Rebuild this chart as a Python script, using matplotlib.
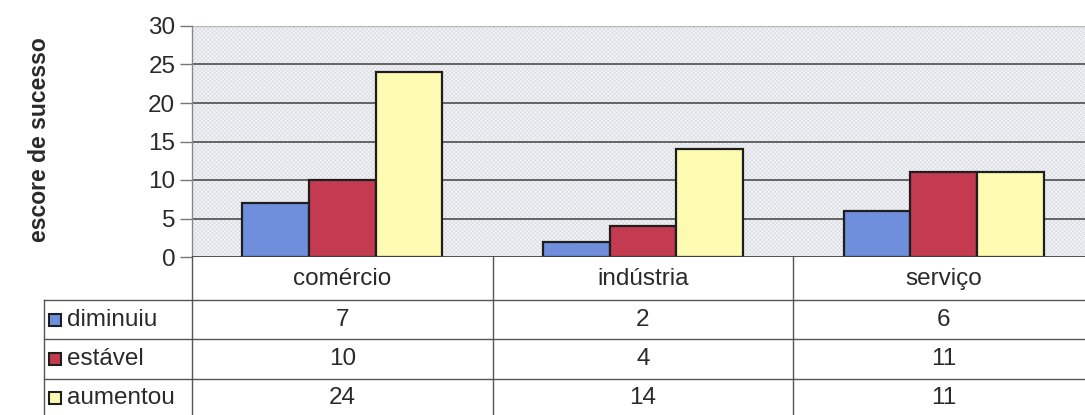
import numpy as np
import matplotlib.pyplot as plt
import matplotlib.transforms as mtransforms
from matplotlib.patches import Rectangle
from matplotlib.lines import Line2D

plt.rcParams['font.family'] = ['Liberation Sans', 'DejaVu Sans']
plt.rcParams['hatch.linewidth'] = 0.4

categories = ["comércio", "indústria", "serviço"]
series_names = ["diminuiu", "estável", "aumentou"]
diminuiu = [7, 2, 6]
estavel = [10, 4, 11]
aumentou = [24, 14, 11]
series_values = [diminuiu, estavel, aumentou]
colors = ["#6f8fdc", "#c43a50", "#fdfbb2"]
yticks = [0, 5, 10, 15, 20, 25, 30]

W, H = 1085, 415
fig = plt.figure(figsize=(W / 100, H / 100), dpi=100)
txt_color = "#2a2a2a"
fs = 17.5


def fy(py):
    # pixel row -> figure fraction
    return 1 - py / H


def fx(px):
    return px / W


ax = fig.add_axes([fx(192), fy(257), fx(1085) - fx(192), fy(26) - fy(257)])
ax.set_facecolor("#f2f3f6")
ax.add_patch(Rectangle((0, 0), 1, 1, transform=ax.transAxes, facecolor="none",
                       edgecolor="#d6d9df", hatch="xxxxxxxx", lw=0, zorder=0))

x = np.arange(len(categories))
bw = 0.222
for i, (vals, c) in enumerate(zip(series_values, colors)):
    ax.bar(x + (i - 1) * bw, vals, width=bw, color=c, edgecolor="#1e1e1e",
           linewidth=1.6, zorder=3)

ax.set_xlim(-0.5, 2.5 - 9 / 301)
ax.set_ylim(0, 30)
ax.set_yticks(yticks)
ax.set_yticklabels([str(t) for t in yticks], fontsize=fs, color=txt_color)
ax.tick_params(axis="y", length=9, width=1, color="#777777", pad=3)
ax.set_xticks([])
for t in yticks[1:-1]:
    ax.axhline(t, color="#5a5a5a", lw=1.3, zorder=1)
ax.axhline(30, color="#b8b8b8", lw=1.0, zorder=1)
ax.axhline(0, color="#444444", lw=1.3, zorder=4)
for s in ["top", "right", "bottom"]:
    ax.spines[s].set_visible(False)
ax.spines["left"].set_color("#888888")
ax.spines["left"].set_linewidth(1.0)

fig.text(fx(40), fy(140), "escore de sucesso", rotation=90, ha="center",
         va="center", fontsize=16.5, fontweight="bold", color=txt_color)

# data table under the plot: columns follow the category positions
trans = mtransforms.blended_transform_factory(ax.transData, fig.transFigure)
line_kw = dict(color="#555555", lw=1.0, clip_on=False)
col_edges = [-0.5, 0.5, 1.5, 2.5]
for xe in col_edges:
    fig.add_artist(Line2D([xe, xe], [fy(257), fy(420)], transform=trans, **line_kw))
row_lines = [300, 339, 379]
for ry in row_lines:
    fig.add_artist(Line2D([fx(44), fx(1085)], [fy(ry), fy(ry)],
                          transform=fig.transFigure, **line_kw))
fig.add_artist(Line2D([fx(44), fx(44)], [fy(300), fy(420)],
                      transform=fig.transFigure, **line_kw))

for xi, cat in zip(x, categories):
    fig.text(xi, fy(279), cat, transform=trans, ha="center", va="center",
             fontsize=fs, color=txt_color)

row_centers = [320, 359, 398]
for name, vals, c, ry in zip(series_names, series_values, colors, row_centers):
    fig.add_artist(Rectangle((fx(49), fy(ry + 6)), fx(12), 12 / H,
                             transform=fig.transFigure, facecolor=c,
                             edgecolor="#1e1e1e", lw=1.5))
    fig.text(fx(67), fy(ry), name, ha="left", va="center", fontsize=fs,
             color=txt_color)
    for xi, v in zip(x, vals):
        fig.text(xi, fy(ry), str(v), transform=trans, ha="center", va="center",
                 fontsize=fs, color=txt_color)

fig.savefig("out.png", dpi=100)
